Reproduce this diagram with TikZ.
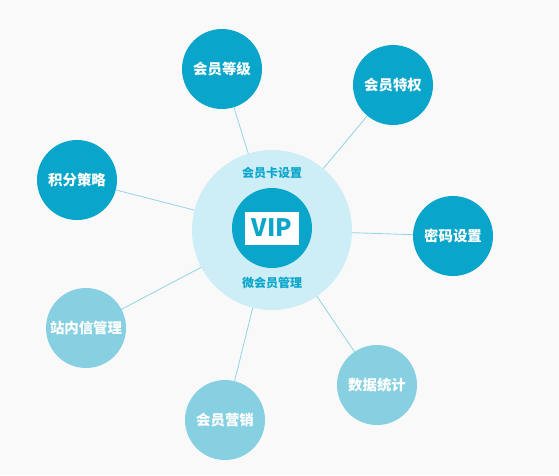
\documentclass[tikz,border=0pt]{standalone}
\usepackage{fontspec}
\usepackage{tikz}
\usetikzlibrary{positioning,backgrounds}
\newfontfamily\cjk{Noto Sans CJK SC}
\definecolor{vipdark}{HTML}{0AA5CA}
\definecolor{viplight}{HTML}{86D0E2}
\definecolor{vipring}{HTML}{CDEEF7}
\definecolor{vipline}{HTML}{92D4E6}
\definecolor{vipbg}{HTML}{F9F9F9}

\begin{document}
\begin{tikzpicture}[x=1pt,y=-1pt,
  satDark/.style ={circle, fill=vipdark, minimum size=80pt, inner sep=0pt, text=white, font=\cjk\bfseries\fontsize{14.4}{15}\selectfont},
  satLight/.style={circle, fill=viplight, minimum size=80pt, inner sep=0pt, text=white, font=\cjk\bfseries\fontsize{14.4}{15}\selectfont},
  ringLabel/.style={text=vipdark, font=\cjk\bfseries\fontsize{12}{12}\selectfont},
  link/.style={draw=vipline, line width=0.8pt},
]
% canvas 559 x 475 px, y downwards
\useasboundingbox (0,0) rectangle (559,475);

\node[circle, fill=vipring, minimum size=160pt, inner sep=0pt] (ring) at (272,230) {};
\node[circle, fill=vipdark, minimum size=80pt, inner sep=0pt] (core) at (272,228) {};
\node[fill=white, minimum width=54pt, minimum height=33pt, inner sep=0pt,
      text=vipdark, font=\cjk\bfseries\fontsize{24}{24}\selectfont] (vip) at (272,228) {VIP};
\node[ringLabel] (card) at (272,173) {会员卡设置};
\node[ringLabel] (manage) at (272,283) {微会员管理};

% satellites
\node[satDark]  (dengji)   at (222,69)  {会员等级};
\node[satDark]  (tequan)   at (393,85)  {会员特权};
\node[satDark]  (jifen)    at (77,180)  {积分策略};
\node[satDark]  (mima)     at (453,236) {密码设置};
\node[satLight] (zhannei)  at (86,328)  {站内信管理};
\node[satLight] (tongji)   at (377,385) {数据统计};
\node[satLight] (yingxiao) at (225,420) {会员营销};

\begin{scope}[on background layer]
  \fill[vipbg] (0,0) rectangle (559,475);
  \foreach \s in {dengji,tequan,jifen,mima,zhannei,tongji,yingxiao}
    \draw[link] (\s.center) -- (ring.center);
\end{scope}
\end{tikzpicture}
\end{document}
